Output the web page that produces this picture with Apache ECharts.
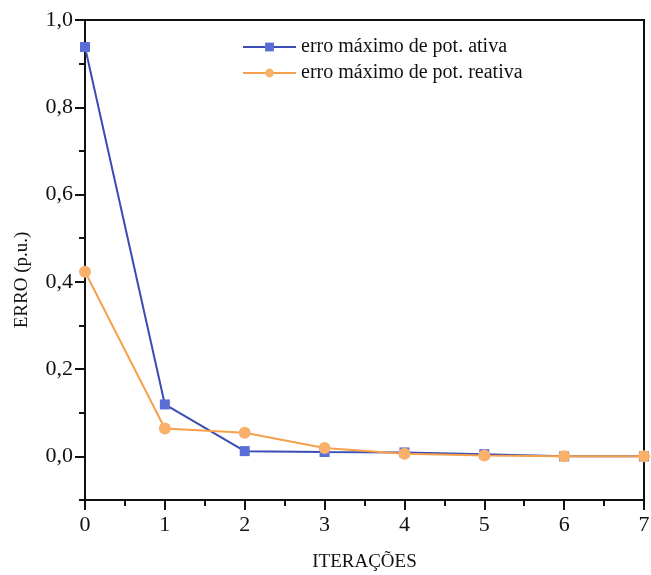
<!DOCTYPE html>
<html><head><meta charset="utf-8">
<script src="https://cdn.jsdelivr.net/npm/echarts@6/dist/echarts.min.js"></script>
<style>html,body{margin:0;padding:0;background:#fff}#c{width:651px;height:575px}</style>
</head><body><div id="c"></div>
<script>
const iterations = [0, 1, 2, 3, 4, 5, 6, 7];
const erroAtiva = [0.938, 0.119, 0.012, 0.010, 0.009, 0.005, 0.000, 0.000];
const erroReativa = [0.423, 0.064, 0.054, 0.019, 0.006, 0.002, 0.000, 0.000];
const yMajorTicks = [0, 0.2, 0.4, 0.6, 0.8, 1.0];
const yMinorTicks = [-0.1, 0.1, 0.3, 0.5, 0.7, 0.9];
const seriesNames = ['erro máximo de pot. ativa', 'erro máximo de pot. reativa'];

const font = 'Liberation Serif';
const chart = echarts.init(document.getElementById('c'));
const toPts = arr => arr.map((v, i) => [iterations[i], v]);
chart.setOption({
  animation: false,
  grid: { left: 85, right: 7, top: 20, bottom: 75, show: true, borderColor: '#111', borderWidth: 2,
    containLabel: false, outerBoundsMode: 'none' },
  legend: {
    left: 237, top: 32, orient: 'vertical', itemWidth: 53, itemHeight: 11, itemGap: 6,
    textStyle: { fontFamily: font, fontSize: 20, color: '#111' },
    data: seriesNames
  },
  xAxis: {
    type: 'value', min: 0, max: 7, interval: 1,
    name: 'ITERAÇÕES', nameLocation: 'middle', nameGap: 53,
    nameTextStyle: { fontFamily: font, fontSize: 19, color: '#111' },
    axisLine: { onZero: false, lineStyle: { color: '#111', width: 2 } },
    axisTick: { inside: false, length: 10, lineStyle: { color: '#111', width: 2 } },
    minorTick: { show: true, splitNumber: 2, length: 6, lineStyle: { color: '#111', width: 2 } },
    axisLabel: { fontFamily: font, fontSize: 22, color: '#111', margin: 14 },
    splitLine: { show: false }
  },
  yAxis: [{
    type: 'value', min: -0.1, max: 1.0,
    name: 'ERRO (p.u.)', nameLocation: 'middle', nameGap: 53, nameRotate: 90,
    nameTextStyle: { fontFamily: font, fontSize: 19, color: '#111', padding: [0, 40, 0, 0] },
    axisLine: { show: true, onZero: false, lineStyle: { color: '#111', width: 2 } },
    axisTick: { show: true, length: 10, customValues: yMajorTicks, lineStyle: { color: '#111', width: 2 } },
    axisLabel: { fontFamily: font, fontSize: 22, color: '#111', margin: 12, customValues: yMajorTicks,
      formatter: v => v.toFixed(1).replace('.', ',') },
    splitLine: { show: false }
  }, {
    type: 'value', min: -0.1, max: 1.0, position: 'left',
    axisLine: { show: false, onZero: false },
    axisTick: { show: true, length: 6, customValues: yMinorTicks, lineStyle: { color: '#111', width: 2 } },
    axisLabel: { show: false },
    splitLine: { show: false }
  }],
  series: [{
    name: seriesNames[0], type: 'line', data: toPts(erroAtiva), yAxisIndex: 0,
    symbol: 'rect', symbolSize: 10,
    lineStyle: { color: '#3a4db5', width: 2 },
    itemStyle: { color: '#5a6dd6' }, z: 2
  }, {
    name: seriesNames[1], type: 'line', data: toPts(erroReativa), yAxisIndex: 0,
    symbol: 'circle', symbolSize: 12,
    lineStyle: { color: '#f6a04d', width: 2 },
    itemStyle: { color: '#f8b06a' }, z: 3
  }]
});
</script></body></html>
